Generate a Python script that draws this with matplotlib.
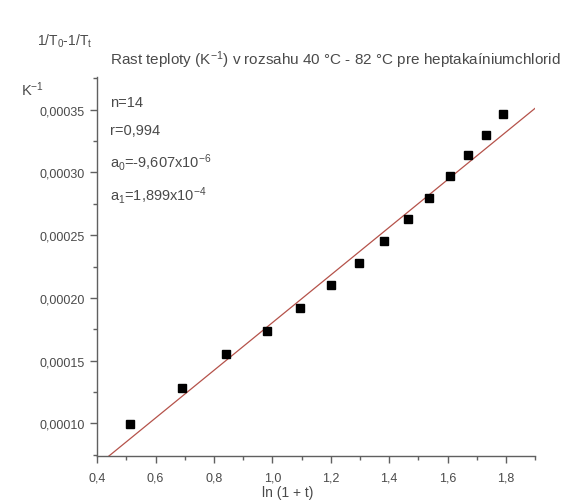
import matplotlib
matplotlib.use("Agg")
import matplotlib.pyplot as plt
from matplotlib.ticker import MultipleLocator, FuncFormatter
import numpy as np
from matplotlib import font_manager

# ---- data ----
x_vals = [0.511, 0.689, 0.842, 0.981, 1.095, 1.201, 1.297, 1.383, 1.463, 1.537, 1.607, 1.671, 1.731, 1.791]
y_vals = [0.0000992, 0.0001279, 0.0001553, 0.0001739, 0.0001919, 0.0002100, 0.0002278,
          0.0002456, 0.0002629, 0.0002796, 0.0002971, 0.0003136, 0.0003298, 0.0003465]
fit_a0 = -9.607e-6
fit_a1 = 1.899e-4
fit_x_range = [0.4, 1.9]
x_limits = [0.4, 1.9]
y_limits = [0.0000742, 0.0003758]

title = "Rast teploty (K$^{-1}$) v rozsahu 40 °C - 82 °C pre heptakaíniumchlorid"
ylabel_top = "1/T$_0$-1/T$_t$"
yunit = "K$^{-1}$"
xlabel = "ln (1 + t)"
stats = ["n=14", "r=0,994", "a$_0$=-9,607x10$^{-6}$", "a$_1$=1,899x10$^{-4}$"]

names = {f.name for f in font_manager.fontManager.ttflist}
fam = "Liberation Sans Narrow" if "Liberation Sans Narrow" in names else "Liberation Sans"
plt.rcParams['font.family'] = [fam, 'DejaVu Sans']
plt.rcParams['mathtext.fontset'] = 'custom'
plt.rcParams['mathtext.rm'] = fam
plt.rcParams['mathtext.it'] = fam
plt.rcParams['mathtext.default'] = 'rm'

txt_color = '#4a4a4a'
fig = plt.figure(figsize=(5.78, 5.02), dpi=100)
ax = fig.add_axes([0.168, 0.090, 0.758, 0.754])

fx = np.array(fit_x_range)
ax.plot(fx, fit_a0 + fit_a1 * fx, color='#b5524a', lw=0.9, zorder=2)
ax.plot(x_vals, y_vals, 's', color='black', ms=5.2, zorder=3)

ax.set_xlim(*x_limits)
ax.set_ylim(*y_limits)
for s in ['top', 'right']:
    ax.spines[s].set_visible(False)
for s in ['left', 'bottom']:
    ax.spines[s].set_color('#606060')
    ax.spines[s].set_linewidth(1.0)

ax.xaxis.set_major_locator(MultipleLocator(0.2))
ax.xaxis.set_minor_locator(MultipleLocator(0.1))
ax.yaxis.set_major_locator(MultipleLocator(0.00005))
ax.yaxis.set_minor_locator(MultipleLocator(0.000025))
ax.xaxis.set_major_formatter(FuncFormatter(lambda v, p: f"{v:.1f}".replace('.', ',')))
ax.yaxis.set_major_formatter(FuncFormatter(lambda v, p: f"{v:.5f}".replace('.', ',')))
ax.tick_params(which='major', length=5, width=1.0, color='#606060', labelsize=9,
               labelcolor=txt_color, direction='out')
ax.tick_params(axis='x', which='major', pad=6)
ax.tick_params(axis='y', which='major', pad=4)
ax.tick_params(which='minor', length=3, width=1.0, color='#606060', direction='out')

fig.text(37/578, 1 - 41/502, ylabel_top, fontsize=10, color=txt_color, va='center', ha='left')
fig.text(110/578, 1 - 60/502, title, fontsize=11, color=txt_color, va='center', ha='left')
fig.text(21/578, 1 - 90/502, yunit, fontsize=10.5, color=txt_color, va='center', ha='left')
fig.text(0.497, 1.5/502, xlabel, fontsize=10, color=txt_color, va='bottom', ha='center')

ys = [103, 131, 163, 195]
for s, yy in zip(stats, ys):
    fig.text(110/578, 1 - yy/502, s, fontsize=10.5, color=txt_color, va='center', ha='left')

fig.savefig("out.png", dpi=100)
